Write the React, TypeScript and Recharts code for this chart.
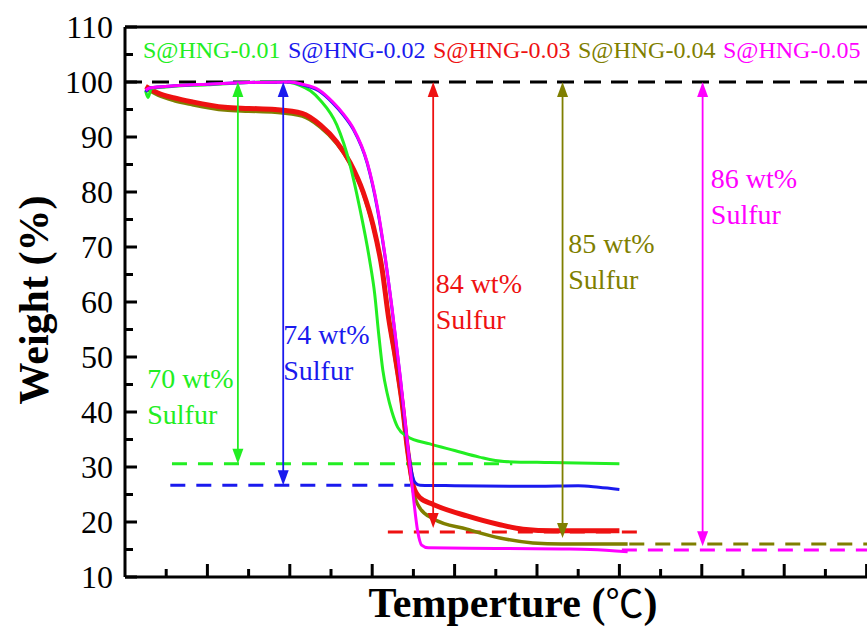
import { LineChart, Line, XAxis, YAxis, ReferenceLine, ReferenceDot, Legend, Label } from 'recharts'

const FONT = "'Liberation Serif', 'Times New Roman', Times, serif"
const PLOT_LEFT = 125
const PLOT_BOTTOM = 577

// temperature (°C), weight (%)
const S001: [number, number][] = [
  [25, 98.4], [28, 97.2], [32, 98.8], [50, 99.1], [100, 99.5], [150, 99.9], [190, 100.1],
  [212, 99.4], [225, 98.4], [237, 96.7], [257, 92.2], [273, 85], [285, 77], [297, 67.5],
  [303, 61.5], [308, 54], [313, 47.5], [318, 43.5], [324, 40], [331, 37.2], [342, 35.6],
  [370, 34.2], [400, 33], [430, 31.8], [460, 31], [516, 30.8], [600, 30.6],
]
const S002: [number, number][] = [
  [25, 98.2], [30, 98.9], [60, 99.3], [100, 99.6], [150, 99.9], [200, 100], [215, 99.5],
  [235, 98.4], [252, 96.2], [265, 94], [277, 91.4], [294, 85.2], [306, 77.2], [316, 67.8],
  [324, 58.8], [334, 46.3], [342, 35], [348, 29], [352, 27.2], [358, 26.7], [400, 26.6],
  [500, 26.5], [550, 26.6], [575, 26.3], [600, 25.9],
]
const S003: [number, number][] = [
  [25, 99.2], [40, 98], [60, 97.1], [81, 96.4], [121, 95.4], [150, 95.2], [182, 95],
  [215, 94.3], [237, 92.2], [257, 89.1], [273, 85.4], [289, 80], [301, 74], [312, 66],
  [320, 57], [328, 50], [336, 42], [343, 33], [350, 26.5], [358, 24.4], [374, 23.2],
  [415, 21.1], [455, 19.5], [483, 18.7], [520, 18.4], [600, 18.4],
]
const S004: [number, number][] = [
  [25, 98.8], [40, 97.6], [60, 96.6], [81, 95.9], [121, 94.9], [150, 94.7], [182, 94.5],
  [215, 93.8], [237, 91.8], [257, 88.8], [273, 85.2], [289, 79.8], [301, 73.8], [312, 66],
  [320, 57], [328, 49.5], [336, 41.5], [343, 32.5], [350, 25.5], [358, 22.5], [374, 20.6],
  [415, 18.7], [455, 17.1], [495, 16.2], [530, 16], [610, 16],
]
const S005: [number, number][] = [
  [25, 98.5], [30, 98.9], [60, 99.3], [100, 99.6], [150, 99.9], [200, 100], [215, 99.6],
  [235, 98.6], [252, 96.4], [265, 94.2], [277, 91.6], [294, 85.4], [306, 77.5], [316, 68],
  [324, 59], [334, 46.5], [342, 35.5], [350, 24.5], [355, 18.5], [360, 15.8], [368, 15.3],
  [450, 15.2], [530, 15.1], [565, 15], [610, 14.6],
]

const NAMES = ['S@HNG-0.01', 'S@HNG-0.02', 'S@HNG-0.03', 'S@HNG-0.04', 'S@HNG-0.05']
const COLORS = ['#22ee22', '#1a1aee', '#ee1111', '#7f7f00', '#ff00ff']

// residual levels (dashed): [y, xStart, xEnd]
const LEVELS: [number, number, number][] = [
  [30.6, 57, 470], [26.7, 55, 346], [18.2, 319, 622], [16.0, 612, 1000], [14.9, 603, 1000],
]
// arrows: [x, yTop, yBottom]
const ARROWS: [number, number, number][] = [
  [137, 100, 30.6], [192, 100, 26.7], [374, 100, 18.9], [531, 100, 17.1], [701, 100, 15.6],
]
// labels: [x, y, text]
const SULFUR: [number, number, string][] = [
  [27, 44.4, '70 wt%'], [192, 52.4, '74 wt%'], [377, 61.7, '84 wt%'], [538, 69, '85 wt%'], [711, 80.7, '86 wt%'],
]

const Y_TICKS = [10, 15, 20, 25, 30, 35, 40, 45, 50, 55, 60, 65, 70, 75, 80, 85, 90, 95, 100, 105, 110]
const X_TICKS = [0, 50, 100, 150, 200, 250, 300, 350, 400, 450, 500, 550, 600, 650, 700, 750, 800, 850, 900, 950, 1000]

const toRows = (s: [number, number][]) => s.map(([t, w]) => ({ t, w }))
const SERIES = [S001, S002, S003, S004, S005]
const DRAW_ORDER = [3, 2, 0, 1, 4]

function YTick(props: any) {
  const { y, payload } = props
  const major = payload.value % 10 === 0
  return (
    <g>
      <line x1={PLOT_LEFT} x2={PLOT_LEFT + (major ? 12 : 8)} y1={y} y2={y} stroke="#000" strokeWidth={3} />
      {major && (
        <text x={PLOT_LEFT - 12} y={y} dy="0.34em" textAnchor="end" fontFamily={FONT} fontSize={32} fill="#000">
          {payload.value}
        </text>
      )}
    </g>
  )
}

function XTick(props: any) {
  const { x, payload } = props
  if (payload.value === 0) return <g />
  const major = payload.value % 100 === 0
  return <line x1={x} x2={x} y1={PLOT_BOTTOM} y2={PLOT_BOTTOM - (major ? 13 : 8)} stroke="#000" strokeWidth={3} />
}

function arrowShape(color: string) {
  return (p: any) => {
    const x = p.x1
    const top = Math.min(p.y1, p.y2)
    const bot = Math.max(p.y1, p.y2)
    return (
      <g>
        <line x1={x} x2={x} y1={top + 10} y2={bot - 10} stroke={color} strokeWidth={1.8} />
        <path d={`M${x},${top} L${x - 5.5},${top + 15} L${x + 5.5},${top + 15} Z`} fill={color} />
        <path d={`M${x},${bot} L${x - 5.5},${bot - 15} L${x + 5.5},${bot - 15} Z`} fill={color} />
      </g>
    )
  }
}

function textShape(color: string, text: string) {
  return (p: any) => (
    <text x={p.cx} y={p.cy} fontFamily={FONT} fontSize={28} fill={color}>
      <tspan x={p.cx}>{text}</tspan>
      <tspan x={p.cx} dy={36}>Sulfur</tspan>
    </text>
  )
}

function LegendRow(props: any) {
  const items = [...(props.payload ?? [])].sort((a: any, b: any) => String(a.value).localeCompare(String(b.value)))
  return (
    <div style={{ display: 'flex', fontFamily: FONT, fontSize: 24, lineHeight: '26px', whiteSpace: 'nowrap' }}>
      {items.map((it: any) => (
        <span key={it.value} style={{ color: it.color, width: 145 }}>{it.value}</span>
      ))}
    </div>
  )
}

export default function App() {
  return (
    <div style={{ position: 'absolute', left: 0, top: 0, width: 867, height: 628, overflow: 'hidden', background: '#fff' }}>
      <LineChart width={960} height={628} margin={{ top: 0, right: 11, bottom: 21, left: 65 }}>
        <XAxis xAxisId="top" orientation="top" type="number" domain={[0, 1000]} height={27}
          tick={false} tickLine={false} axisLine={{ stroke: '#000', strokeWidth: 3 }} />
        <XAxis dataKey="t" type="number" domain={[0, 1000]} ticks={X_TICKS} interval={0} height={30}
          tick={XTick} tickLine={false} axisLine={{ stroke: '#000', strokeWidth: 3 }} allowDataOverflow>
          <Label content={() => (
            <text x={513} y={617} textAnchor="middle" fontFamily={FONT} fontWeight="bold" fontSize={42} fill="#000">
              Temperture (<tspan fontFamily="'Noto Sans CJK SC', 'DejaVu Sans', sans-serif" fontWeight="normal" fontSize={38}>℃</tspan>)
            </text>
          )} />
        </XAxis>
        <YAxis type="number" domain={[10, 110]} ticks={Y_TICKS} interval={0} width={60}
          tick={YTick} tickLine={false} axisLine={{ stroke: '#000', strokeWidth: 3 }}>
          <Label content={() => (
            <text x={34} y={300} transform="rotate(-90 34 300)" textAnchor="middle" dominantBaseline="central"
              fontFamily={FONT} fontWeight="bold" fontSize={42} fill="#000">
              Weight (%)
            </text>
          )} />
        </YAxis>

        <ReferenceLine y={100} stroke="#000" strokeWidth={3} strokeDasharray="17 10" />
        {LEVELS.map(([y, a, b], i) => (
          <ReferenceLine key={'lv' + i} segment={[{ x: a, y }, { x: b, y }]} stroke={COLORS[i]} strokeWidth={3} strokeDasharray="15 11" />
        ))}

        {DRAW_ORDER.map((i) => (
          <Line key={NAMES[i]} name={NAMES[i]} data={toRows(SERIES[i])} dataKey="w" type="monotone"
            stroke={COLORS[i]} strokeWidth={i === 2 ? 5 : i === 3 ? 3.5 : 3} dot={false} activeDot={false}
            isAnimationActive={false} />
        ))}

        {ARROWS.map(([x, a, b], i) => (
          <ReferenceLine key={'ar' + i} segment={[{ x, y: a }, { x, y: b }]} shape={arrowShape(COLORS[i])} />
        ))}
        {SULFUR.map(([x, y, t], i) => (
          <ReferenceDot key={'tx' + i} x={x} y={y} r={0} shape={textShape(COLORS[i], t)} />
        ))}

        <Legend layout="horizontal" verticalAlign="middle" align="center" content={LegendRow}
          wrapperStyle={{ top: 37, left: 143, width: 'auto' }} />
      </LineChart>
    </div>
  )
}
